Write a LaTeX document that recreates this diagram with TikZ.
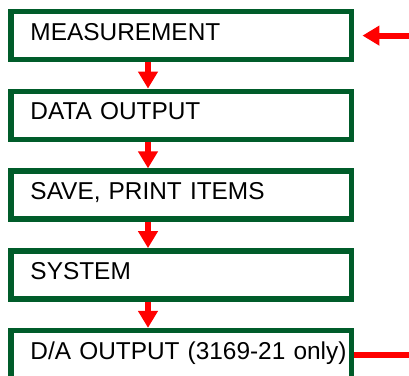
\documentclass[tikz,border=0pt]{standalone}
\usepackage{fontspec}
\setmainfont{Liberation Sans}
\usetikzlibrary{arrows.meta}
\definecolor{boxgreen}{HTML}{005C2A}
\definecolor{flowred}{HTML}{FF0000}

\begin{document}
\begin{tikzpicture}[x=1bp, y=-1bp,
    stage/.style={draw=boxgreen, line width=5.5bp, rectangle,
        minimum width=340.7bp, minimum height=48bp,
        text width=301.7bp, inner xsep=19.5bp, align=left,
        text height=17.2bp, text depth=8.2bp,
        font=\fontsize{24.4bp}{28bp}\selectfont},
    flow/.style={flowred, line width=6bp, -{Triangle[length=17bp, width=19bp]}},
    feed/.style={flowred, line width=6bp}]
            \useasboundingbox (0,0) rectangle (409,376);
            \node[stage] (meas) at (181.35, 35.6) {MEASUREMENT};
            \node[stage] (data) at (181.35, 115.35) {DATA OUTPUT};
            \node[stage] (save) at (181.35, 195.1) {SAVE, PRINT ITEMS};
            \node[stage] (sys) at (181.35, 274.85) {SYSTEM};
            \node[stage] (dao) at (181.35, 354.6) {\mbox{D/A OUTPUT (3169-21 only)}};

            \coordinate (in) at (409, 35.6);
            \coordinate (out) at (409, 354.6);

            \draw[flow] ([xshift=-33.35bp]meas.south) -- ([xshift=-33.35bp]data.north);
            \draw[flow] ([xshift=-33.35bp]data.south) -- ([xshift=-33.35bp]save.north);
            \draw[flow] ([xshift=-33.35bp]save.south) -- ([xshift=-33.35bp]sys.north);
            \draw[flow] ([xshift=-33.35bp]sys.south) -- ([xshift=-33.35bp]dao.north);

            \draw[flow] (in) -- ([xshift=8bp]meas.east);
            \draw[feed] (dao.east) -- (out);
        \end{tikzpicture}
\end{document}
